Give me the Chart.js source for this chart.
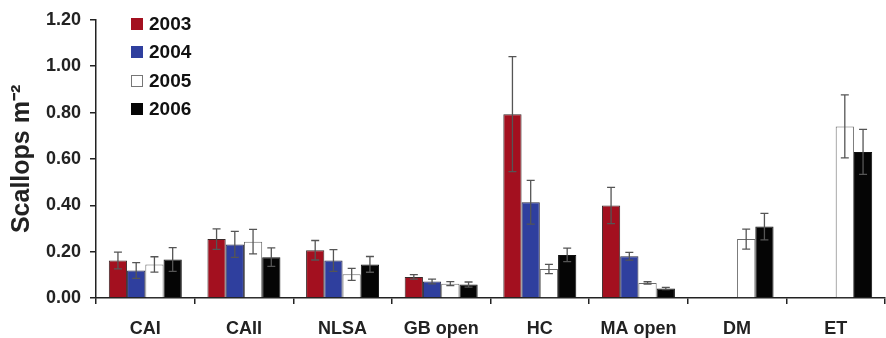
<!DOCTYPE html>
<html>
<head>
<meta charset="utf-8">
<script src="https://cdn.jsdelivr.net/npm/chart.js@4/dist/chart.umd.min.js"></script>
<style>
  html, body { margin: 0; padding: 0; background: #fff; }
  #wrap { width: 886px; height: 338px; }
</style>
</head>
<body>
<div id="wrap"><canvas id="c" width="886" height="338"></canvas></div>
<script>
const categories = ["CAI", "CAII", "NLSA", "GB open", "HC", "MA open", "DM", "ET"];
const years = ["2003", "2004", "2005", "2006"];

const mean2003 = [0.162, 0.254, 0.206, 0.091, 0.793, 0.399, null, null];
const mean2004 = [0.119, 0.231, 0.162, 0.071, 0.413, 0.180, null, null];
const mean2005 = [0.145, 0.243, 0.102, 0.062, 0.125, 0.065, 0.254, 0.740];
const mean2006 = [0.166, 0.176, 0.145, 0.058, 0.186, 0.041, 0.308, 0.630];

const err2003 = [0.036, 0.044, 0.042, 0.010, 0.248, 0.078, null, null];
const err2004 = [0.034, 0.056, 0.047, 0.010, 0.094, 0.017, null, null];
const err2005 = [0.033, 0.053, 0.026, 0.009, 0.020, 0.005, 0.043, 0.136];
const err2006 = [0.051, 0.040, 0.034, 0.011, 0.029, 0.005, 0.057, 0.097];

const yTicks = [0, 0.2, 0.4, 0.6, 0.8, 1.0, 1.2];

const FONT = "'Liberation Sans', Arial, sans-serif";

const fills = ["#a3101f", "#2f3f9e", "#ffffff", "#050505"];
const borders = ["#3a2a2a", "#2a2a40", "#6a6a6a", "#111111"];
const means = [mean2003, mean2004, mean2005, mean2006];
const errs = [err2003, err2004, err2005, err2006];

const datasets = years.map((y, i) => ({
  label: y,
  data: means[i],
  errors: errs[i],
  backgroundColor: fills[i],
  borderColor: borders[i],
  borderWidth: 1,
  categoryPercentage: 0.74,
  barPercentage: 1.0
}));

const errorBars = {
  id: 'errorBars',
  afterDatasetsDraw(chart) {
    const ctx = chart.ctx;
    const ys = chart.scales.y;
    ctx.save();
    ctx.strokeStyle = '#555555';
    ctx.lineWidth = 1.3;
    chart.data.datasets.forEach((ds, di) => {
      const meta = chart.getDatasetMeta(di);
      meta.data.forEach((bar, j) => {
        const v = ds.data[j], e = ds.errors[j];
        if (v == null || e == null) return;
        const x = bar.x;
        const yt = ys.getPixelForValue(v + e);
        const yb = ys.getPixelForValue(v - e);
        const cap = 4;
        ctx.beginPath();
        ctx.moveTo(x, yt); ctx.lineTo(x, yb);
        ctx.moveTo(x - cap, yt); ctx.lineTo(x + cap, yt);
        ctx.moveTo(x - cap, yb); ctx.lineTo(x + cap, yb);
        ctx.stroke();
      });
    });
    ctx.restore();
  }
};

const insideLegend = {
  id: 'insideLegend',
  afterDraw(chart) {
    const ctx = chart.ctx;
    ctx.save();
    const x0 = 131, yc = [24, 52, 81, 109];
    chart.data.datasets.forEach((ds, i) => {
      ctx.fillStyle = ds.backgroundColor;
      ctx.fillRect(x0, yc[i] - 6, 12, 12);
      ctx.strokeStyle = i === 2 ? '#777777' : ds.backgroundColor;
      ctx.lineWidth = 1;
      ctx.strokeRect(x0 + 0.5, yc[i] - 5.5, 11, 11);
      ctx.fillStyle = '#111111';
      ctx.font = "bold 19px " + FONT;
      ctx.textBaseline = 'middle';
      ctx.textAlign = 'left';
      ctx.fillText(ds.label, x0 + 18, yc[i] + 1);
    });
    ctx.restore();
  }
};

new Chart(document.getElementById('c'), {
  type: 'bar',
  data: { labels: categories, datasets },
  plugins: [errorBars, insideLegend],
  options: {
    responsive: false,
    animation: false,
    layout: { padding: { top: 8, right: 1, left: 0, bottom: 0 } },
    plugins: { legend: { display: false }, tooltip: { enabled: false } },
    scales: {
      x: {
        grid: { display: true, drawOnChartArea: false, drawTicks: true, tickLength: 6, color: '#222', offset: true, lineWidth: 1.5 },
        border: { display: true, color: '#222', width: 1.5 },
        ticks: { color: '#222', font: { family: FONT, size: 18, weight: 'bold' }, padding: 14, maxRotation: 0 },
        afterFit(s) { s.height = 40; }
      },
      y: {
        min: 0, max: 1.2,
        afterBuildTicks(s) { s.ticks = yTicks.map(v => ({ value: v })); },
        grid: { display: true, drawOnChartArea: false, drawTicks: true, tickLength: 6, color: '#222', lineWidth: 1.5 },
        border: { display: true, color: '#222', width: 1.5 },
        ticks: { color: '#222', font: { family: FONT, size: 18, weight: 'bold' }, padding: 9,
                 callback: v => Number(v).toFixed(2) },
        title: { display: true, text: 'Scallops m⁻²', color: '#222', font: { family: FONT, size: 25, weight: 'bold' }, padding: { top: 7, bottom: 4 } },
        afterFit(s) { s.width = 96; }
      }
    }
  }
});
</script>
</body>
</html>
